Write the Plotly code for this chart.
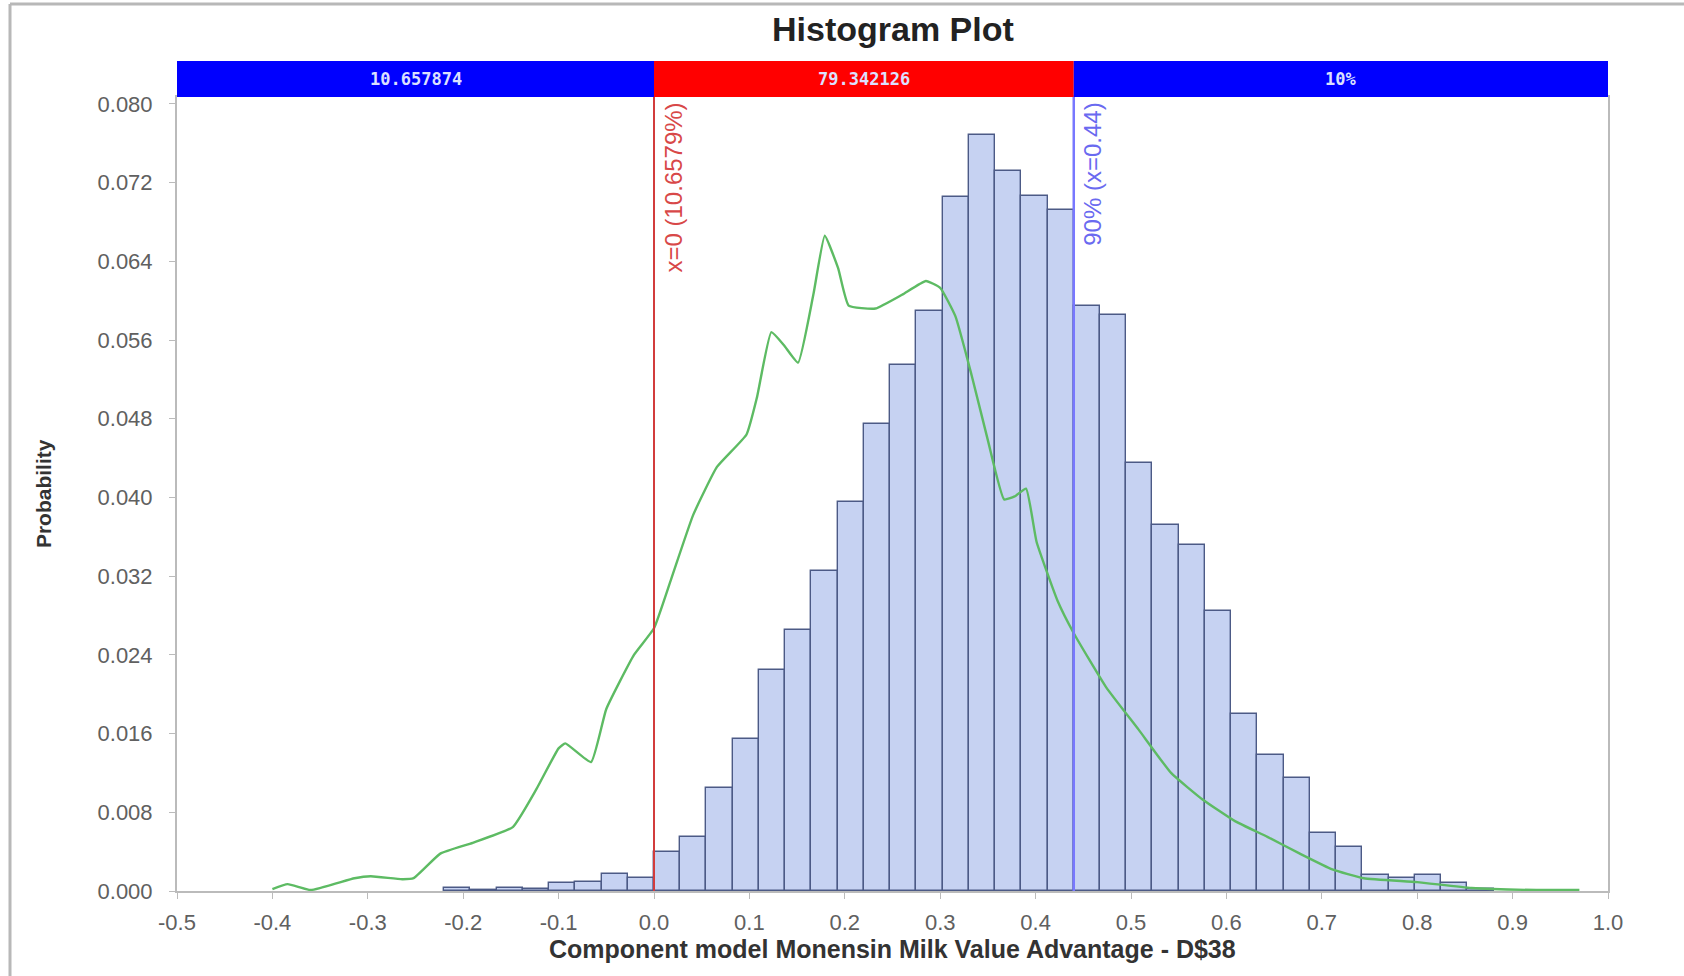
import numpy as np
import plotly.graph_objects as go

# ---------------- data ----------------
bin_width = 0.0275
neg_probs = [0.0003, 0.0001, 0.0003, 0.0002, 0.0008, 0.0009, 0.0017, 0.0013]   # bins from -0.22 up to 0
pos_probs = [0.0040, 0.0055, 0.0105, 0.0155, 0.0225, 0.0265, 0.0325, 0.0395,
             0.0475, 0.0535, 0.0590, 0.0705, 0.0768, 0.0732, 0.0706, 0.0692,
             0.0595, 0.0585, 0.0435, 0.0372, 0.0352, 0.0285, 0.0180, 0.0138,
             0.0115, 0.0059, 0.0045, 0.0016, 0.0013, 0.0016, 0.0008, 0.0002]
probs = neg_probs + pos_probs

curve_x = [-0.40, -0.384, -0.36, -0.314, -0.297, -0.264, -0.252, -0.224, -0.19, -0.148,
           -0.123, -0.10, -0.093, -0.066, -0.05, -0.021, 0.0, 0.018, 0.041, 0.066,
           0.097, 0.108, 0.123, 0.136, 0.151, 0.167, 0.179, 0.193, 0.204, 0.232,
           0.26, 0.285, 0.30, 0.316, 0.333, 0.35, 0.367, 0.378, 0.39, 0.401,
           0.423, 0.44, 0.474, 0.508, 0.542, 0.575, 0.609, 0.643, 0.677, 0.711,
           0.744, 0.80, 0.857, 0.925, 0.97]
curve_y = [0.0002, 0.0007, 0.0001, 0.0013, 0.0015, 0.0012, 0.0013, 0.0038, 0.0049, 0.0065,
           0.0104, 0.0145, 0.0150, 0.0131, 0.0185, 0.0240, 0.0267, 0.0317, 0.0382, 0.0431,
           0.0464, 0.0502, 0.0568, 0.0555, 0.0537, 0.0606, 0.0666, 0.0633, 0.0595, 0.0592,
           0.0606, 0.0620, 0.0613, 0.0584, 0.0524, 0.0458, 0.0398, 0.0401, 0.0409, 0.0355,
           0.0295, 0.0262, 0.0207, 0.0164, 0.0120, 0.0093, 0.0071, 0.0055, 0.0038, 0.0022,
           0.0013, 0.0009, 0.0003, 0.0001, 0.0001]

band_edges = [-0.5, 0.0, 0.44, 1.0]
band_labels = ["10.657874", "79.342126", "10%"]
band_colors = ["#0000FF", "#FF0000", "#0000FF"]

x_ticks = [-0.5, -0.4, -0.3, -0.2, -0.1, 0.0, 0.1, 0.2, 0.3, 0.4, 0.5, 0.6, 0.7, 0.8, 0.9, 1.0]
x_tick_labels = ["-0.5", "-0.4", "-0.3", "-0.2", "-0.1", "0.0", "0.1", "0.2", "0.3", "0.4",
                 "0.5", "0.6", "0.7", "0.8", "0.9", "1.0"]
y_ticks = [0.000, 0.008, 0.016, 0.024, 0.032, 0.040, 0.048, 0.056, 0.064, 0.072, 0.080]

lower_x, lower_label = 0.0, "x=0 (10.6579%)"
upper_x, upper_label = 0.44, "90% (x=0.44)"

# ---------------- figure ----------------
bin_start = -len(neg_probs) * bin_width
centers = bin_start + bin_width * (np.arange(len(probs)) + 0.5)

FONT = "Liberation Sans, Arial, sans-serif"
fig = go.Figure()
fig.add_trace(go.Bar(x=centers, y=probs, width=bin_width,
                     marker=dict(color="#C6D2F2", line=dict(color="#4C5A86", width=1.4)),
                     hoverinfo="x+y"))
fig.add_trace(go.Scatter(x=curve_x, y=curve_y, mode="lines",
                         line=dict(color="#5DBB63", width=2.4, shape="spline", smoothing=0.4)))

shapes = []
for i, (lab, col) in enumerate(zip(band_labels, band_colors)):
    shapes.append(dict(type="rect", xref="x", yref="paper", x0=band_edges[i], x1=band_edges[i + 1],
                       y0=1.0, y1=1.0453, fillcolor=col, line=dict(width=0), layer="above"))
shapes.append(dict(type="line", xref="x", yref="paper", x0=lower_x, x1=lower_x, y0=0, y1=1,
                   line=dict(color="#D23C3C", width=2), layer="above"))
shapes.append(dict(type="line", xref="x", yref="paper", x0=upper_x, x1=upper_x, y0=0, y1=1,
                   line=dict(color="#7878FF", width=2.5), layer="above"))
shapes.append(dict(type="line", xref="paper", yref="paper", x0=-0.1167, x1=-0.1167, y0=-0.11, y1=1.117,
                   line=dict(color="#B8B8B8", width=3)))
shapes.append(dict(type="line", xref="paper", yref="paper", x0=-0.1167, x1=1.06, y0=1.117, y1=1.117,
                   line=dict(color="#B8B8B8", width=3)))

annotations = []
for i, (lab, col) in enumerate(zip(band_labels, band_colors)):
    annotations.append(dict(x=(band_edges[i] + band_edges[i + 1]) / 2, y=1.0227, xref="x", yref="paper",
                            text="<b>" + lab + "</b>", showarrow=False, xanchor="center", yanchor="middle",
                            font=dict(family="DejaVu Sans Mono, monospace", size=17,
                                      color="#DCE0FF")))
annotations += [
    dict(text="<b>Histogram Plot</b>", x=0.5, y=1.0856, xref="paper", yref="paper",
         showarrow=False, xanchor="center", yanchor="middle",
         font=dict(family=FONT, size=34, color="#222222")),
    dict(text="<b>Component model Monensin Milk Value Advantage - D$38</b>", x=0.5, y=-0.073,
         xref="paper", yref="paper", showarrow=False, xanchor="center", yanchor="middle",
         font=dict(family=FONT, size=25, color="#333333")),
    dict(text="<b>Probability</b>", x=-0.0936, y=0.5, xref="paper", yref="paper", textangle=-90,
         showarrow=False, xanchor="center", yanchor="middle",
         font=dict(family=FONT, size=21, color="#333333")),
    dict(text=lower_label, x=lower_x, y=1, xref="x", yref="paper", textangle=-90, showarrow=False,
         xanchor="left", yanchor="top", xshift=3, yshift=-4,
         font=dict(family=FONT, size=24, color="#D84848")),
    dict(text=upper_label, x=upper_x, y=1, xref="x", yref="paper", textangle=-90, showarrow=False,
         xanchor="left", yanchor="top", xshift=3, yshift=-4,
         font=dict(family=FONT, size=24, color="#6A6AF0")),
]

fig.update_layout(
    width=1684, height=976,
    margin=dict(l=177, r=76, t=97, b=85, autoexpand=False),
    paper_bgcolor="white", plot_bgcolor="white",
    showlegend=False, bargap=0,
    shapes=shapes, annotations=annotations,
    font=dict(family=FONT),
)
fig.update_xaxes(range=[-0.5, 1.0], tickvals=x_ticks, ticktext=x_tick_labels,
                 showgrid=False, zeroline=False, showline=True, mirror=True,
                 linecolor="#BBBBBB", linewidth=2, ticks="outside", ticklen=6, tickcolor="#BBBBBB",
                 tickfont=dict(size=22, color="#606060"), ticklabelstandoff=5)
fig.update_yaxes(range=[0, 0.0807], tickvals=y_ticks, tickformat=".3f",
                 showgrid=False, zeroline=False, showline=True, mirror=True,
                 linecolor="#BBBBBB", linewidth=2, ticks="outside", ticklen=6, tickcolor="#BBBBBB",
                 tickfont=dict(size=22, color="#606060"), ticklabelstandoff=12)

fig.write_html("out.html")
